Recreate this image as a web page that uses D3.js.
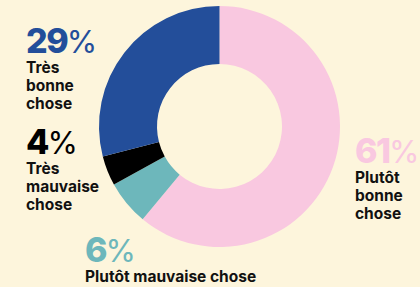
<!DOCTYPE html>
<html>
<head>
<meta charset="utf-8">
<script src="https://cdn.jsdelivr.net/npm/d3@7"></script>
<style>
  html, body { margin: 0; padding: 0; background: #fdf5dc; }
  svg { display: block; }
  .pct { font-family: Inter, sans-serif; font-weight: 800; font-size: 34px; letter-spacing: -1.5px; }
  .pct .sign { font-weight: 400; font-size: 31px; }
  .lbl { font-family: Inter, sans-serif; font-weight: 700; font-size: 15.5px; fill: #111; }
</style>
</head>
<body>
<svg width="420" height="287"></svg>
<script>
// data, clockwise from 12 o'clock
const categories = ['Plutôt bonne chose', 'Plutôt mauvaise chose', 'Très mauvaise chose', 'Très bonne chose'];
const values = [61, 6, 4, 29];
const colors = ['#f9c8e0', '#6db7bb', '#000000', '#234e9a'];
// label lines as printed
const labelLines = [
    ['Plutôt', 'bonne', 'chose'],
    ['Plutôt mauvaise chose'],
    ['Très', 'mauvaise', 'chose'],
    ['Très', 'bonne', 'chose']
];

const W = 420, H = 287;
const CX = 219.5, CY = 126.5;
const R_OUT = 120.5, R_IN = 62.5;

const svg = d3.select('svg');
svg.append('rect').attr('width', W).attr('height', H).attr('fill', '#fdf5dc');

const pie = d3.pie().sort(null).value(d => d)(values);
const arc = d3.arc().innerRadius(R_IN).outerRadius(R_OUT);

svg.append('g')
    .attr('transform', `translate(${CX},${CY})`)
    .selectAll('path')
    .data(pie)
    .join('path')
    .attr('d', arc)
    .attr('fill', (d, i) => colors[i]);

// where each label block sits (x, baseline of the percentage)
const labelPos = [
    { x: 355, y: 163 },
    { x: 85, y: 262 },
    { x: 26, y: 154 },
    { x: 26, y: 53 }
];
const LINE_H = 18;

const labels = svg.selectAll('.label')
    .data(values)
    .join('g')
    .attr('class', 'label')
    .attr('transform', (d, i) => `translate(${labelPos[i].x},${labelPos[i].y})`);

const pct = labels.append('text')
    .attr('class', 'pct')
    .attr('fill', (d, i) => colors[i]);
pct.append('tspan').text(d => d);
pct.append('tspan').attr('class', 'sign').attr('dx', -0.5).text('%');

labels.each(function (d, i) {
    d3.select(this).selectAll('.lbl')
        .data(labelLines[i])
        .join('text')
        .attr('class', 'lbl')
        .attr('y', (t, j) => 20 + j * LINE_H)
        .text(t => t);
});
</script>
</body>
</html>
